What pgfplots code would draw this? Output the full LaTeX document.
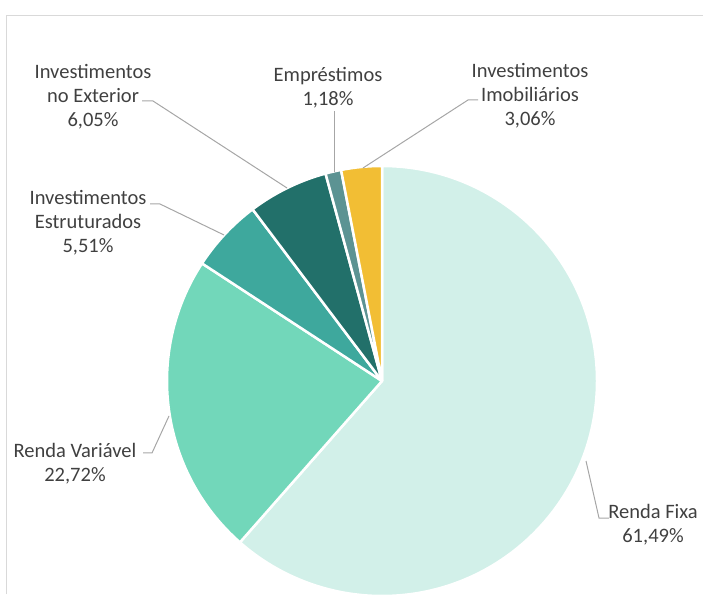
\documentclass[border=0pt]{standalone}
\usepackage{pgfplots}
\usepackage{pgfplotstable}
\pgfplotsset{compat=1.18}
\usepackage{fontspec}
\setmainfont{Carlito}
\definecolor{cFixa}{HTML}{D2F0E9}
\definecolor{cVar}{HTML}{72D7BA}
\definecolor{cEst}{HTML}{3EA89D}
\definecolor{cExt}{HTML}{22706A}
\definecolor{cEmp}{HTML}{5C9393}
\definecolor{cImo}{HTML}{F2BE34}
\definecolor{txt}{HTML}{404040}
\definecolor{lead}{HTML}{A6A6A6}
\definecolor{frame}{HTML}{D9D9D9}
\pgfplotstableread{
label pct
Fixa 61.49
Variavel 22.72
Estruturados 5.51
Exterior 6.05
Emprestimos 1.18
Imobiliarios 3.06
}\piedata
\begin{document}
\begin{tikzpicture}
\pgfplotstablegetelem{0}{pct}\of\piedata \let\vA\pgfplotsretval
\pgfplotstablegetelem{1}{pct}\of\piedata \let\vB\pgfplotsretval
\pgfplotstablegetelem{2}{pct}\of\piedata \let\vC\pgfplotsretval
\pgfplotstablegetelem{3}{pct}\of\piedata \let\vD\pgfplotsretval
\pgfplotstablegetelem{4}{pct}\of\piedata \let\vE\pgfplotsretval
\pgfplotstablegetelem{5}{pct}\of\piedata \let\vF\pgfplotsretval
\pgfmathsetmacro\aO{90}
\pgfmathsetmacro\aA{\aO-3.6*\vA}
\pgfmathsetmacro\aB{\aA-3.6*\vB}
\pgfmathsetmacro\aC{\aB-3.6*\vC}
\pgfmathsetmacro\aD{\aC-3.6*\vD}
\pgfmathsetmacro\aE{\aD-3.6*\vE}
\pgfmathsetmacro\aF{\aE-3.6*\vF}
\begin{axis}[x=1pt,y=1pt,xmin=0,xmax=703,ymin=0,ymax=594,hide axis,scale only axis,clip=true,anchor=south west,at={(0,0)}]
\coordinate (bl) at (axis cs:0,0);
\coordinate (tr) at (axis cs:703,594);
\coordinate (C) at (axis cs:382,213);
\foreach \s/\e/\c in {\aO/\aA/cFixa,\aA/\aB/cVar,\aB/\aC/cEst,\aC/\aD/cExt,\aD/\aE/cEmp,\aE/\aF/cImo}{
  \edef\tmp{\noexpand\filldraw[fill=\c,draw=white,line width=2.5pt,line join=round] (C) -- +(\s:215pt) arc[start angle=\s,end angle=\e,radius=215pt] -- cycle;}
  \tmp
}
\draw[frame,line width=1.5pt] (axis cs:6.5,0) -- (axis cs:6.5,578.5) -- (axis cs:703,578.5);
\begin{scope}[lead,line width=1pt]
\draw (axis cs:142,493) -- (axis cs:153,493) -- (axis cs:287,406);
\draw (axis cs:150,390) -- (axis cs:160,390) -- (axis cs:224,359);
\draw (axis cs:334,483) -- (axis cs:334,422);
\draw (axis cs:478,494) -- (axis cs:468,494) -- (axis cs:363,426);
\draw (axis cs:143,141) -- (axis cs:152,141) -- (axis cs:169,178);
\draw (axis cs:586,133) -- (axis cs:599,76) -- (axis cs:609,76);
\end{scope}
\begin{scope}[every node/.style={text=txt,align=center,font=\fontsize{20.5}{24}\selectfont,inner sep=0pt}]
\node at (axis cs:93,497) {Investimentos\\no Exterior\\6,05\%};
\node at (axis cs:328,506.5) {Empréstimos\\1,18\%};
\node at (axis cs:530,498) {Investimentos\\Imobiliários\\3,06\%};
\node at (axis cs:88,371) {Investimentos\\Estruturados\\5,51\%};
\node at (axis cs:75,130) {Renda Variável\\22,72\%};
\node at (axis cs:653,69) {Renda Fixa\\61,49\%};
\end{scope}
\end{axis}
\pgfresetboundingbox
\path[use as bounding box] (bl) rectangle (tr);
\end{tikzpicture}
\end{document}
